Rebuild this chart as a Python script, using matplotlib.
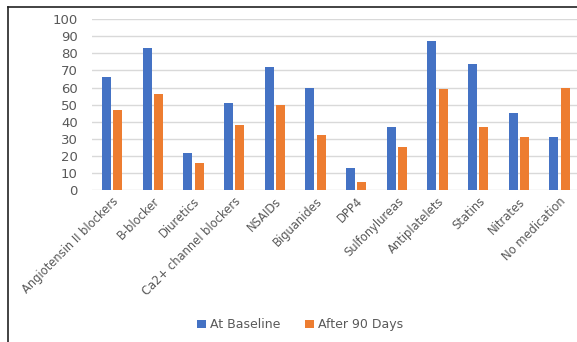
import matplotlib
matplotlib.use("Agg")
import matplotlib.pyplot as plt
from matplotlib.lines import Line2D
import numpy as np

categories = ["Angiotensin II blockers", "B-blocker", "Diuretics", "Ca2+ channel blockers",
              "NSAIDs", "Biguanides", "DPP4", "Sulfonylureas", "Antiplatelets", "Statins",
              "Nitrates", "No medication"]
baseline = [66, 83, 22, 51, 72, 60, 13, 37, 87, 74, 45, 31]
after_90 = [47, 56, 16, 38, 50, 32, 5, 25, 59, 37, 31, 60]

BLUE = "#4472C4"
ORANGE = "#ED7D31"
GREY = "#595959"

fig = plt.figure(figsize=(5.77, 3.42), dpi=100)
ax = fig.add_axes([0.159, 0.444, 0.846, 0.5])

x = np.arange(len(categories))
w = 0.22
ax.bar(x - 0.14, baseline, w, color=BLUE, label="At Baseline", zorder=3)
ax.bar(x + 0.14, after_90, w, color=ORANGE, label="After 90 Days", zorder=3)

ax.set_ylim(0, 100)
ax.set_xlim(-0.5, len(categories) - 0.5)
ax.set_yticks(range(0, 101, 10))
ax.yaxis.grid(True, color="#D9D9D9", lw=1.0, zorder=0)
for s in ax.spines.values():
    s.set_visible(False)
ax.tick_params(axis="both", length=0, colors=GREY, labelsize=9.5)
ax.tick_params(axis="y", pad=10)
ax.set_xticks(x)
ax.set_xticklabels(categories, rotation=45, ha="right", rotation_mode="anchor", fontsize=8.3)

fig.legend(loc="center", bbox_to_anchor=(0.52, 0.05), ncol=2, frameon=False,
           fontsize=9, handlelength=0.7, handleheight=0.7, columnspacing=2.0,
           handletextpad=0.3, labelcolor=GREY)

# frame lines of the original screenshot (left and top)
fig.add_artist(Line2D([0.014, 0.014], [0.0, 0.98], color="#222222", lw=1.2))
fig.add_artist(Line2D([0.014, 1.0], [0.98, 0.98], color="#222222", lw=1.2))

fig.savefig("out.png", dpi=100)
